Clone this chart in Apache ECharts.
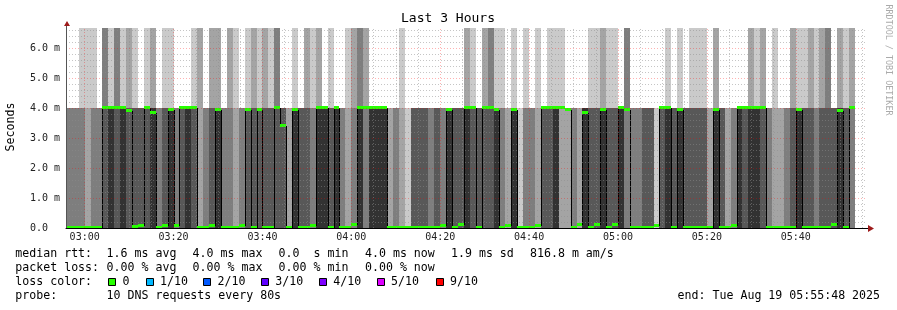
<!DOCTYPE html>
<html><head><meta charset="utf-8">
<script src="https://cdn.jsdelivr.net/npm/echarts@6/dist/echarts.min.js"></script>
<style>html,body{margin:0;padding:0;background:#fff}#c{width:897px;height:310px}</style>
</head><body><div id="c"></div>
<script>
// ---- data (times in minutes since midnight) ----
const viewStart = '02:55:48';
const viewEnd = '05:55:48';
const firstBinStart = '02:56:00';
const stepSeconds = 80;
const xTickLabels = ['03:00','03:20','03:40','04:00','04:20','04:40','05:00','05:20','05:40'];
const yTickLabels = ['0.0','1.0 m','2.0 m','3.0 m','4.0 m','5.0 m','6.0 m'];
const yMaxMs = 6.667;
const midRttMs = 4.0;   // typical answer time
const slowRttMs = 8.0;  // answers above the top of the scale
// number of the 10 pings answered at 0 ms, per 80 s step
const zeroPings = [
 7,7,7,8,7,7,4,5,4,5, 4,6,6,4,5,7,6,5,7,4, 5,4,8,7,6,5,7,7,8,7,
 4,6,4,6,6,4,4,8,5,6, 6,7,5,5,6,5,7,8,7,5, 3,5,5,5,8,7,8,9,6,6,
 6,7,6,7,5,6,6,5,4,6, 4,4,5,7,8,5,9,7,7,8, 4,4,5,2,2,7,8,5,6,6,
 5,6,6,5,3,7,7,6,6,9, 4,5,6,5,6,6,6,6,8,5, 6,8,7,5,4,5,5,4,7,8,
 8,7,6,5,6,6,7,6,6,6, 5,6,3
];
// number of the 10 pings above the scale, per step
const slowPings = [
 0,0,1,1,1,0,3,1,3,1, 2,1,0,1,2,0,1,1,0,0, 0,1,2,0,2,2,0,2,1,0,
 1,2,1,2,1,3,0,0,1,0, 2,1,2,0,1,0,0,1,2,3, 2,0,0,0,0,0,1,0,0,0,
 0,0,0,0,0,0,0,2,1,0, 2,3,1,1,0,1,0,1,0,1, 0,1,1,1,0,0,0,0,1,1,
 2,1,1,0,3,0,0,0,0,0, 0,1,0,1,0,1,1,1,0,2, 0,0,0,0,0,2,1,2,0,1,
 0,0,2,1,1,2,1,2,3,0, 2,1,2
];
// median rtt (ms), per step
const medianMs = [
 0,0,0,0,0,0,4.0,4.0,4.0,4.0, 3.9,0.03,0.07,4.0,3.85,0,0.08,3.95,0.07,4.0,
 4.0,4.0,0,0,0.08,3.95,0,0,0,0.07, 3.95,0,3.95,0,0,4.0,3.4,0,3.95,0,
 0,0.07,4.0,4.0,0,4.0,0,0,0.1,4.0, 4.0,4.0,4.0,4.0,0,0,0,0,0,0,
 0,0,0,0.07,3.95,0,0.1,4.0,4.0,0, 4.0,4.0,3.95,0,0.07,3.95,0,0,0,0.07,
 4.0,4.0,4.0,4.0,3.95,0,0.1,3.85,0,0.1, 3.95,0,0.1,4.0,3.95,0,0,0,0,0.07,
 4.0,4.0,0,3.95,0,0,0,0,0,3.95, 0,0,0.07,4.0,4.0,4.0,4.0,4.0,0,0,
 0,0,0,3.95,0,0,0,0,0,0.1, 3.9,0,4.0
];
const smokeShades = ['#cacaca','#a4a4a4','#7e7e7e','#585858','#323232'];
const lossColors = ['#26ff00','#00b8ff','#0059ff','#5e00ff','#7e00ff','#dd00ff','#ff0000'];
const lossLabels = ['0','1/10','2/10','3/10','4/10','5/10','9/10'];

// ---- helpers ----
function toMin(s){const p=s.split(':').map(Number);return p[0]*60+p[1]+(p[2]||0)/60;}
const xMin = toMin(viewStart), xMax = toMin(viewEnd);
const binStart = toMin(firstBinStart), stepMin = stepSeconds/60;
const xTickMins = xTickLabels.map(toMin);
function fmtMin(v){const i=xTickMins.findIndex(m=>Math.abs(m-v)<1e-6);return i>=0?xTickLabels[i]:'';}

const binData = zeroPings.map((z,k)=>[binStart+k*stepMin, z, slowPings[k], medianMs[k], k>0?medianMs[k-1]:medianMs[k]]);

function renderItem(params, api){
  const t0 = api.value(0), t1 = t0+stepMin;
  const n0 = api.value(1), nH = api.value(2), med = api.value(3), prev = api.value(4);
  const pings=[];
  for(let i=0;i<10;i++) pings.push(i<n0?0:(i<10-nH?midRttMs:slowRttMs));
  const x0 = Math.round(api.coord([t0,0])[0]);
  const x1 = Math.round(api.coord([t1,0])[0]);
  const ch=[];
  for(let i=0;i<5;i++){
    const lo=Math.min(pings[i],yMaxMs), hi=Math.min(pings[9-i],yMaxMs);
    if(hi<=lo) continue;
    const yT=Math.round(api.coord([t0,hi])[1]), yB=Math.round(api.coord([t0,lo])[1]);
    ch.push({type:'rect',shape:{x:x0,y:yT,width:x1-x0,height:yB-yT},style:{fill:smokeShades[i]}});
  }
  const ym=Math.round(api.coord([t0,med])[1]);
  const yp=Math.round(api.coord([t0,prev])[1]);
  if(Math.abs(yp-ym)>3){
    ch.push({type:'line',shape:{x1:x0+0.5,y1:yp,x2:x0+0.5,y2:ym},style:{stroke:'#000',lineWidth:1}});
  }
  ch.push({type:'line',shape:{x1:x0,y1:ym+0.5,x2:x1,y2:ym+0.5},style:{stroke:'#000',lineWidth:1}});
  ch.push({type:'rect',shape:{x:x0,y:ym-2,width:x1-x0,height:3},style:{fill:lossColors[0]}});
  return {type:'group',children:ch};
}

// grid lines
const gridLines=[];
const minorDash=[1,2];
const minorCol='rgba(140,140,140,0.5)', majorCol='rgba(255,0,0,0.3)';
for(let m=Math.ceil(xMin/5)*5;m<xMax;m+=5){
  const major = (m%20===0);
  gridLines.push({xAxis:m,lineStyle:{color:major?majorCol:minorCol,type:minorDash,width:1}});
}
for(let i=1;i*0.2<yMaxMs-0.01;i++){
  const v=+(i*0.2).toFixed(1);
  const major=(i%5===0);
  gridLines.push({yAxis:v,lineStyle:{color:major?majorCol:minorCol,type:minorDash,width:1}});
}

const mono='DejaVu Sans Mono';
const graphic=[];
function txt(x,y,s,opt){graphic.push(Object.assign({type:'text',x:x,y:y,silent:true,style:Object.assign({text:s,font:'11.6px "'+mono+'"',fill:'#000',align:'left',verticalAlign:'middle'},opt||{})}));}
// title
graphic.push({type:'text',x:448,y:19,style:{text:'Last 3 Hours',font:'13px "'+mono+'"',fill:'#000',align:'center',verticalAlign:'middle'}});
// y axis title
graphic.push({type:'text',x:11,y:127,rotation:Math.PI/2,style:{text:'Seconds',font:'11.6px "'+mono+'"',fill:'#000',align:'center',verticalAlign:'middle'}});
// side credit
graphic.push({type:'text',x:888,y:60,rotation:-Math.PI/2,style:{text:'RRDTOOL / TOBI OETIKER',font:'8.4px "'+mono+'"',fill:'#aaaaaa',align:'center',verticalAlign:'middle'}});
// arrows
graphic.push({type:'line',shape:{x1:66.5,y1:28,x2:66.5,y2:24},style:{stroke:'#555',lineWidth:1}});
graphic.push({type:'polygon',shape:{points:[[67,21],[64,26],[70,26]]},style:{fill:'#9e1b1b'}});
graphic.push({type:'line',shape:{x1:866,y1:228.5,x2:869,y2:228.5},style:{stroke:'#000',lineWidth:1}});
graphic.push({type:'polygon',shape:{points:[[868,225],[868,232],[874,228.5]]},style:{fill:'#9e1b1b'}});
// legend rows
const r1=254.3,r2=268.3,r3=282.3,r4=296.3;
txt(15.3,r1,'median rtt:');
txt(106.6,r1,'1.6 ms avg');
txt(192.6,r1,'4.0 ms max');
txt(278.6,r1,'0.0  s min');
txt(365,r1,'4.0 ms now');
txt(451,r1,'1.9 ms sd');
txt(530,r1,'816.8 m am/s');
txt(15.3,r2,'packet loss:');
txt(106.6,r2,'0.00 % avg');
txt(192.6,r2,'0.00 % max');
txt(278.6,r2,'0.00 % min');
txt(365,r2,'0.00 % now');
txt(15.3,r3,'loss color:');
const boxX=[108,146,203,261,319,377,436];
const labX=[122.6,160,217.6,275.3,333.3,391,450];
lossColors.forEach((c,i)=>{
  graphic.push({type:'rect',shape:{x:boxX[i]+0.5,y:278.5,width:7,height:7},style:{fill:c,stroke:'#000',lineWidth:1}});
  txt(labX[i],r3,lossLabels[i]);
});
txt(15.3,r4,'probe:');
txt(106.6,r4,'10 DNS requests every 80s');
txt(677.6,r4,'end: Tue Aug 19 05:55:48 2025');

const chart=echarts.init(document.getElementById('c'),null,{renderer:'canvas'});
chart.setOption({
  animation:false,
  backgroundColor:'#fff',
  grid:{left:66,right:31,top:28,bottom:82,containLabel:false},
  xAxis:{type:'value',min:xMin,max:xMax,z:10,
    axisLine:{show:true,onZero:false,lineStyle:{color:'#000',width:1}},
    axisTick:{show:false},splitLine:{show:false},
    axisLabel:{customValues:xTickMins,formatter:fmtMin,fontFamily:mono,fontSize:10,color:'#222',margin:4}},
  yAxis:{type:'value',min:0,max:yMaxMs,interval:1,z:10,
    axisLine:{show:true,lineStyle:{color:'#555',width:1}},
    axisTick:{show:false},splitLine:{show:false},
    axisLabel:{showMaxLabel:false,formatter:v=>yTickLabels[Math.round(v)]||'',align:'left',margin:36,fontFamily:mono,fontSize:10,color:'#222'}},
  series:[
    {type:'custom',renderItem:renderItem,data:binData,z:2,silent:true,clip:true},
    {type:'line',data:[],z:5,silent:true,
      markLine:{silent:true,symbol:['none','none'],label:{show:false},animation:false,data:gridLines}}
  ],
  graphic:graphic
});
</script></body></html>
